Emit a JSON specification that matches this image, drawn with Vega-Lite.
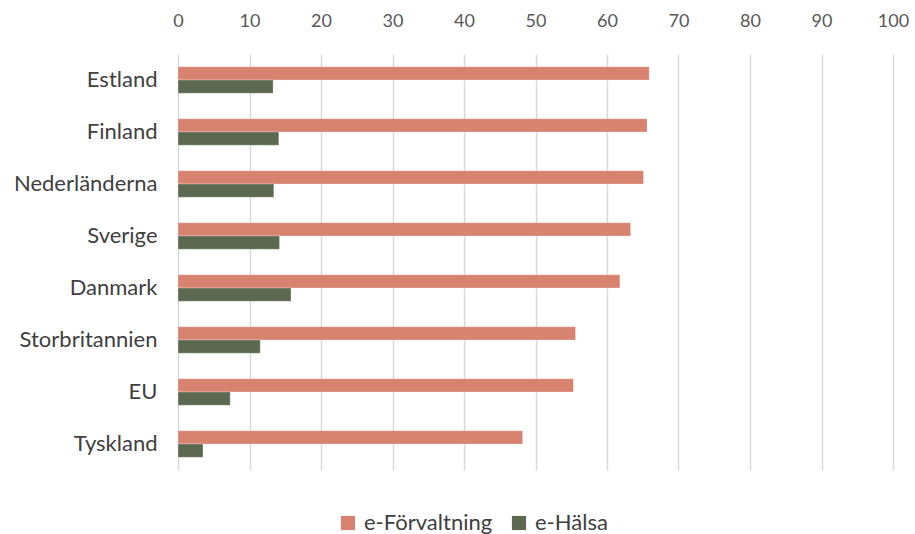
{
  "$schema": "https://vega.github.io/schema/vega-lite/v6.json",
  "width": 715,
  "height": 416,
  "autosize": "none",
  "padding": {"left": 178, "top": 54, "right": 22, "bottom": 64},
  "background": "white",
  "data": {"values": [
    {"land": "Estland", "serie": "e-Förvaltning", "varde": 65.9},
    {"land": "Estland", "serie": "e-Hälsa", "varde": 13.3},
    {"land": "Finland", "serie": "e-Förvaltning", "varde": 65.6},
    {"land": "Finland", "serie": "e-Hälsa", "varde": 14.1},
    {"land": "Nederländerna", "serie": "e-Förvaltning", "varde": 65.1},
    {"land": "Nederländerna", "serie": "e-Hälsa", "varde": 13.4},
    {"land": "Sverige", "serie": "e-Förvaltning", "varde": 63.3},
    {"land": "Sverige", "serie": "e-Hälsa", "varde": 14.2},
    {"land": "Danmark", "serie": "e-Förvaltning", "varde": 61.8},
    {"land": "Danmark", "serie": "e-Hälsa", "varde": 15.8},
    {"land": "Storbritannien", "serie": "e-Förvaltning", "varde": 55.6},
    {"land": "Storbritannien", "serie": "e-Hälsa", "varde": 11.5},
    {"land": "EU", "serie": "e-Förvaltning", "varde": 55.3},
    {"land": "EU", "serie": "e-Hälsa", "varde": 7.3},
    {"land": "Tyskland", "serie": "e-Förvaltning", "varde": 48.2},
    {"land": "Tyskland", "serie": "e-Hälsa", "varde": 3.5}
  ]},
  "mark": {"type": "bar", "stroke": "white", "strokeOpacity": 0.35, "strokeWidth": 0.8},
  "encoding": {
    "y": {
      "field": "land", "type": "nominal",
      "sort": ["Estland", "Finland", "Nederländerna", "Sverige", "Danmark", "Storbritannien", "EU", "Tyskland"],
      "scale": {"paddingInner": 0.49, "paddingOuter": 0.245},
      "axis": {"title": null, "domain": false, "ticks": false, "labelPadding": 21, "labelFont": "Lato", "labelFontSize": 22, "labelColor": "#404040"}
    },
    "yOffset": {"field": "serie", "type": "nominal", "sort": ["e-Förvaltning", "e-Hälsa"], "scale": {"paddingInner": 0, "paddingOuter": 0}},
    "x": {
      "field": "varde", "type": "quantitative",
      "scale": {"domain": [0, 100], "nice": false},
      "axis": {"orient": "top", "title": null, "domain": false, "ticks": false, "values": [0,10,20,30,40,50,60,70,80,90,100], "labelOverlap": false, "labelFlush": false, "labelPadding": 24, "labelFont": "Lato", "labelFontSize": 18, "labelColor": "#595959", "grid": true, "gridColor": "#d9d9d9", "gridWidth": 1.5}
    },
    "color": {
      "field": "serie", "type": "nominal",
      "scale": {"domain": ["e-Förvaltning", "e-Hälsa"], "range": ["#d88270", "#5c6950"]},
      "legend": {"title": null, "orient": "none", "direction": "horizontal", "legendX": 159, "legendY": 458, "symbolType": "square", "symbolSize": 200, "symbolStrokeWidth": 0, "labelFont": "Lato", "labelFontSize": 22, "labelColor": "#404040", "columnPadding": 15, "labelOffset": 5}
    }
  },
  "config": {"view": {"stroke": null}}
}
